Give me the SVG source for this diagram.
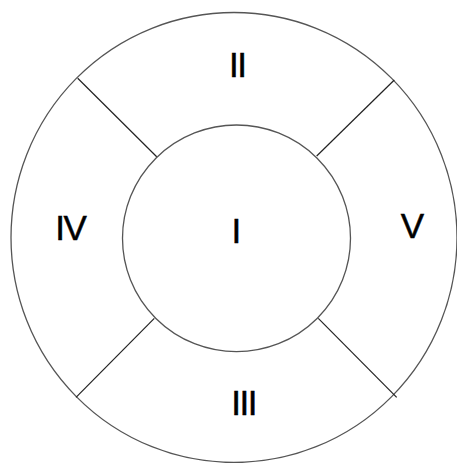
<svg xmlns="http://www.w3.org/2000/svg" width="457" height="463" viewBox="0 0 457 463">
<style>
.ring{fill:none;stroke:#555;stroke-width:1.3}
.conn{stroke:#222;stroke-width:1.2}
.lbl{font-family:"Liberation Sans",Arial,sans-serif;font-size:35px;fill:#000;stroke:#000;stroke-width:0.5;text-anchor:middle;letter-spacing:-1.5px}
</style>
<rect width="457" height="463" fill="#fff"/>
<g id="outer"><ellipse class="ring" cx="234" cy="237.5" rx="223" ry="225"/></g>
<g id="inner"><ellipse class="ring" cx="236.5" cy="238.3" rx="114" ry="113.3"/></g>
<g id="connectors">
<line class="conn" x1="77.7" y1="78.3" x2="156.7" y2="156.7"/>
<line class="conn" x1="394.3" y1="80" x2="316.7" y2="156"/>
<line class="conn" x1="154.3" y1="318.3" x2="76" y2="397.3"/>
<line class="conn" x1="318.3" y1="318.3" x2="396.7" y2="397.3"/>
</g>
<g id="n1"><text class="lbl" x="235.7" y="243.3">I</text></g>
<g id="n2"><text class="lbl" x="237.2" y="77.3">II</text></g>
<g id="n3"><text class="lbl" x="243.7" y="415">III</text></g>
<g id="n4"><text class="lbl" x="70.4" y="240">IV</text></g>
<g id="n5"><text class="lbl" x="411.6" y="237.7">V</text></g>
</svg>
